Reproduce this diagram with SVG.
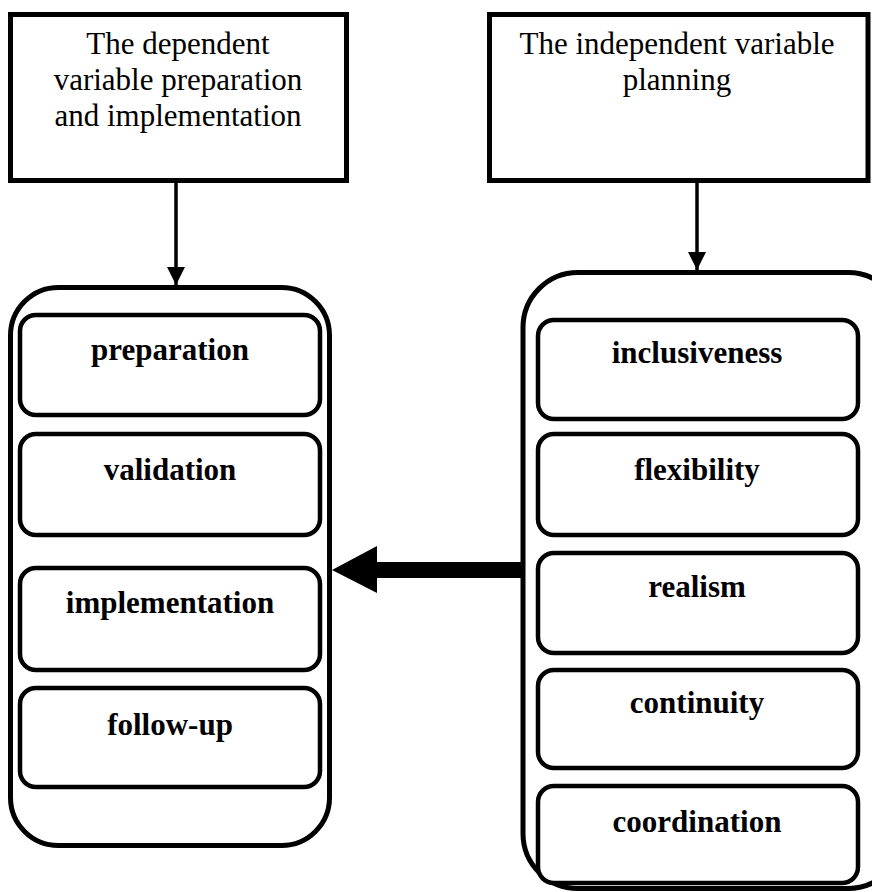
<svg xmlns="http://www.w3.org/2000/svg" width="872" height="892" viewBox="0 0 872 892">
<style>
.box{fill:#fff;stroke:#000;stroke-width:5}
.cont{fill:#fff;stroke:#000;stroke-width:5}
.item{fill:#fff;stroke:#000;stroke-width:4.5}
.t{font-family:"Liberation Serif","Times New Roman",serif;font-size:31px;fill:#000;text-anchor:middle}
.b{font-family:"Liberation Serif","Times New Roman",serif;font-size:31px;font-weight:bold;fill:#000;text-anchor:middle}
.ln{stroke:#000;stroke-width:3.5;fill:none}
</style>
<defs>
<marker id="ah" markerUnits="userSpaceOnUse" markerWidth="20" markerHeight="20" refX="18" refY="9" orient="auto">
<path d="M0,0 L18,9 L0,18 Z" fill="#000"/>
</marker>
</defs>
<g id="dep-box">
<rect class="box" x="10.5" y="14.5" width="336" height="166"/>
<text class="t" x="178" y="54">The dependent</text>
<text class="t" x="178" y="90">variable preparation</text>
<text class="t" x="178" y="126">and implementation</text>
</g>
<g id="indep-box">
<rect class="box" x="489.5" y="14.5" width="378.5" height="166"/>
<text class="t" x="677" y="54">The independent variable</text>
<text class="t" x="677" y="90">planning</text>
</g>
<g id="left-container">
<rect class="cont" x="10.5" y="287.5" width="319" height="558" rx="48" ry="48"/>
</g>
<g id="right-container">
<rect class="cont" x="523" y="272.5" width="380" height="616" rx="55" ry="55"/>
</g>
<g id="preparation">
<rect class="item" x="20" y="315" width="300" height="100" rx="16"/>
<text class="b" x="170" y="360">preparation</text>
</g>
<g id="validation">
<rect class="item" x="20" y="434" width="300" height="101" rx="16"/>
<text class="b" x="170" y="480">validation</text>
</g>
<g id="implementation">
<rect class="item" x="20" y="568" width="300" height="102" rx="16"/>
<text class="b" x="170" y="613">implementation</text>
</g>
<g id="follow-up">
<rect class="item" x="20" y="688" width="300" height="99" rx="16"/>
<text class="b" x="170" y="735">follow-up</text>
</g>
<g id="inclusiveness">
<rect class="item" x="538" y="320" width="320" height="99" rx="16"/>
<text class="b" x="697" y="363">inclusiveness</text>
</g>
<g id="flexibility">
<rect class="item" x="538" y="434" width="320" height="101" rx="16"/>
<text class="b" x="697" y="480">flexibility</text>
</g>
<g id="realism">
<rect class="item" x="538" y="553" width="320" height="100" rx="16"/>
<text class="b" x="697" y="597">realism</text>
</g>
<g id="continuity">
<rect class="item" x="538" y="670" width="320" height="98" rx="16"/>
<text class="b" x="697" y="713">continuity</text>
</g>
<g id="coordination">
<rect class="item" x="538" y="786" width="320" height="97" rx="16"/>
<text class="b" x="697" y="832">coordination</text>
</g>
<g id="connectors">
<line class="ln" x1="176" y1="183" x2="176" y2="285" marker-end="url(#ah)"/>
<line class="ln" x1="697" y1="183" x2="697" y2="270" marker-end="url(#ah)"/>
<rect x="376" y="562" width="145" height="16" fill="#000"/>
<path d="M332,570 L377,546 L377,593 Z" fill="#000"/>
</g>
</svg>
